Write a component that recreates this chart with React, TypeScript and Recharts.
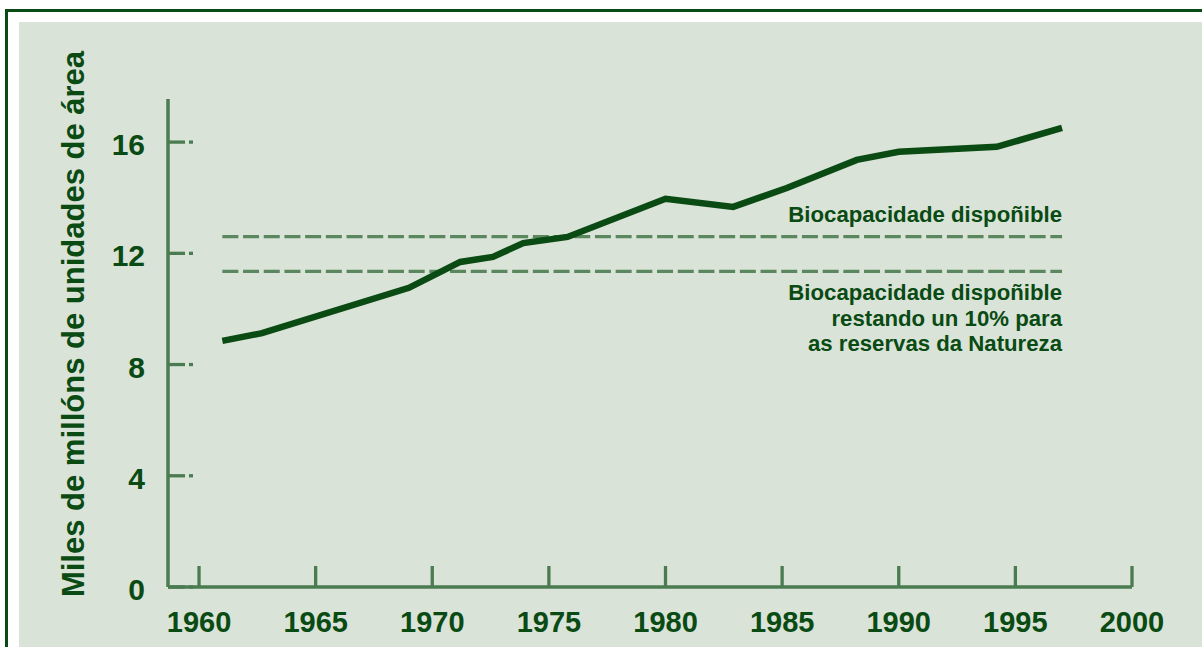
import { LineChart, Line, XAxis, YAxis, ReferenceLine } from "recharts"

const years = [1961, 1962.7, 1969, 1971.2, 1972.6, 1973.9, 1975.8, 1980, 1982.9, 1985.2, 1988.2, 1990, 1994.2, 1997]
const footprint = [8.85, 9.13, 10.76, 11.69, 11.87, 12.37, 12.59, 13.96, 13.67, 14.35, 15.36, 15.65, 15.83, 16.51]

const biocapacity = 12.6
const biocapacityReserve = 11.35
const lineSpan = [1961, 1997]

const xTicks = [1960, 1965, 1970, 1975, 1980, 1985, 1990, 1995, 2000]
const yTicks = [0, 4, 8, 12, 16]

const yTitle = "Miles de millóns de unidades de área"
const labelTop = ["Biocapacidade dispoñible"]
const labelBottom = ["Biocapacidade dispoñible", "restando un 10% para", "as reservas da Natureza"]

const data = years.map((year, i) => ({ year, value: footprint[i] }))

const DARK = "#0a4a13"
const AXIS = "#4b7b51"
const DASH = "#5a875e"
const BG = "#d9e3d8"
const FONT = "'Liberation Sans', Arial, sans-serif"

function YTick(props: any) {
	const { x, y, payload } = props
	return (
		<g>
			<line x1={x} x2={x + 17} y1={y} y2={y} stroke={AXIS} strokeWidth={3.3} />
			<line x1={x + 21} x2={x + 25} y1={y} y2={y} stroke={AXIS} strokeWidth={3.3} />
			<text x={x - 23} y={y + 13} textAnchor="end" fill={DARK} fontFamily={FONT} fontWeight="bold" fontSize={30}>
				{payload.value}
			</text>
		</g>
	)
}

function XTick(props: any) {
	const { x, y, payload } = props
	return (
		<g>
			<line x1={x} x2={x} y1={y} y2={y - 21} stroke={AXIS} strokeWidth={3.3} />
			<text x={x} y={y + 45} textAnchor="middle" fill={DARK} fontFamily={FONT} fontWeight="bold" fontSize={29}>
				{payload.value}
			</text>
		</g>
	)
}

function TitleLabel() {
	return (
		<text
			x={84}
			y={324}
			transform="rotate(-90 84 324)"
			textAnchor="middle"
			fill={DARK}
			fontFamily={FONT}
			fontWeight="bold"
			fontSize={31}
		>
			{yTitle}
		</text>
	)
}

function lineLabel(lines: string[], dy: number) {
	return (props: any) => {
		const vb = props.viewBox || {}
		const right = (vb.x || 0) + (vb.width || 0)
		return (
			<text textAnchor="end" fill={DARK} fontFamily={FONT} fontWeight="bold" fontSize={22.2}>
				{lines.map((t, i) => (
					<tspan key={i} x={right} y={vb.y + dy + i * 25.5}>
						{t}
					</tspan>
				))}
			</text>
		)
	}
}

function App() {
	return (
		<div style={{ position: "absolute", left: 0, top: 0, width: 1202, height: 647, background: "#fff", overflow: "hidden" }}>
			<div
				style={{
					position: "absolute",
					left: 5,
					top: 9,
					right: 0,
					bottom: 0,
					borderTop: `3px solid ${DARK}`,
					borderLeft: `3px solid ${DARK}`,
				}}
			/>
			<div style={{ position: "absolute", left: 19, top: 22, right: 0, bottom: 0, background: BG }} />
			<div style={{ position: "absolute", left: 0, top: 0 }}>
				<LineChart width={1202} height={647} data={data} margin={{ top: 99, right: 70, bottom: 0, left: 108 }}>
					<XAxis
						dataKey="year"
						type="number"
						domain={[1958.67, 2000]}
						ticks={xTicks}
						tick={<XTick />}
						tickSize={0}
						tickMargin={0}
						tickLine={false}
						height={60}
						axisLine={{ stroke: AXIS, strokeWidth: 3.5 }}
						interval={0}
					/>
					<YAxis
						type="number"
						domain={[0, 17.55]}
						ticks={yTicks}
						tick={<YTick />}
						tickSize={0}
						tickMargin={0}
						tickLine={false}
						width={60}
						axisLine={{ stroke: AXIS, strokeWidth: 3.5 }}
						interval={0}
						label={{ content: () => <TitleLabel /> }}
					/>
					<ReferenceLine
						segment={[
							{ x: lineSpan[0], y: biocapacity },
							{ x: lineSpan[1], y: biocapacity },
						]}
						stroke={DASH}
						strokeWidth={3.3}
						strokeDasharray="16 4.7"
						label={lineLabel(labelTop, -14.5)}
					/>
					<ReferenceLine
						segment={[
							{ x: lineSpan[0], y: biocapacityReserve },
							{ x: lineSpan[1], y: biocapacityReserve },
						]}
						stroke={DASH}
						strokeWidth={3.3}
						strokeDasharray="16 4.7"
						label={lineLabel(labelBottom, 29)}
					/>
					<Line
						dataKey="value"
						type="linear"
						stroke={DARK}
						strokeWidth={6.5}
						dot={false}
						activeDot={false}
						isAnimationActive={false}
						strokeLinejoin="miter"
					/>
				</LineChart>
			</div>
		</div>
	)
}

export default App
